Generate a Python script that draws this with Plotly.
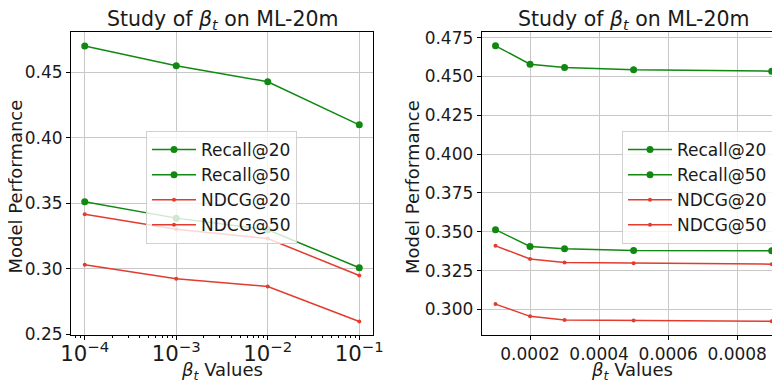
import plotly.graph_objects as go

# ---- data ----
beta_log = [1e-4, 1e-3, 1e-2, 1e-1]
recall20_log = [0.4698, 0.4548, 0.4426, 0.4097]
recall50_log = [0.3510, 0.3386, 0.3297, 0.3008]
ndcg20_log = [0.3030, 0.2924, 0.2865, 0.2598]
ndcg50_log = [0.3416, 0.3302, 0.3230, 0.2949]

beta_lin = [0.0001, 0.0002, 0.0003, 0.0005, 0.0009]
recall20_lin = [0.4697, 0.4579, 0.4558, 0.4543, 0.4534]
recall50_lin = [0.3513, 0.3405, 0.3390, 0.3379, 0.3377]
ndcg20_lin = [0.3034, 0.2955, 0.2931, 0.2929, 0.2923]
ndcg50_lin = [0.3409, 0.3325, 0.3302, 0.3297, 0.3291]

series_names = ["Recall@20", "Recall@50", "NDCG@20", "NDCG@50"]
x_tickvals_lin = [0.0002, 0.0004, 0.0006, 0.0008]

GREEN = "#118811"
RED = "#e33b2e"
FONT = "DejaVu Sans"
TXT = "#1a1a1a"
TICK_SIZE = 17
LEG_SIZE = 17
LABEL_SIZE = 18
TITLE_SIZE = 20.5

W, H = 780, 383
OFF = 8  # page body margin


def px(X):
    return (X - OFF) / W


def py(Y):
    return 1 - (Y - OFF) / H


fig = go.Figure()


def add_series(x, ys, xa, ya, leg):
    styles = [(GREEN, 7), (GREEN, 7), (RED, 4), (RED, 4)]
    for name, y, (c, ms) in zip(series_names, ys, styles):
        fig.add_trace(go.Scatter(
            x=x, y=y, name=name, mode="lines+markers",
            line=dict(color=c, width=1.5),
            marker=dict(color=c, size=ms),
            xaxis=xa, yaxis=ya, legend=leg,
        ))


add_series(beta_log, [recall20_log, recall50_log, ndcg20_log, ndcg50_log], "x", "y", "legend")
add_series(beta_lin, [recall20_lin, recall50_lin, ndcg20_lin, ndcg50_lin], "x2", "y2", "legend2")

ydom = [py(335), py(32)]
grid = "#c8c8c8"
common_axis = dict(
    showgrid=True, gridcolor=grid, gridwidth=1,
    showline=True, linecolor="black", linewidth=1,
    ticks="outside", ticklen=4, tickcolor="black", tickwidth=1,
    tickfont=dict(family=FONT, size=TICK_SIZE, color=TXT),
    zeroline=False, automargin=False, tickangle=0,
)

leg_common = dict(
    bgcolor="rgba(255,255,255,0.8)", bordercolor="#d0d0d0", borderwidth=1,
    font=dict(family=FONT, size=LEG_SIZE, color=TXT),
    xanchor="left", yanchor="top", tracegroupgap=0, itemwidth=44,
)

fig.update_layout(
    width=W, height=H,
    margin=dict(l=0, r=0, t=0, b=0),
    paper_bgcolor="white", plot_bgcolor="white",
    font=dict(family=FONT, color=TXT),
    xaxis=dict(
        common_axis, type="log", domain=[px(71), px(373)],
        range=[-4.15, -0.85], dtick=1, exponentformat="power",
        mirror=True, anchor="y", ticklabelstandoff=-4,
        minor=dict(ticks="outside", ticklen=2, tickcolor="black", showgrid=False),
    ),
    yaxis=dict(
        common_axis, domain=ydom, range=[0.2495, 0.4805], dtick=0.05,
        tickformat=".2f", mirror=True, anchor="x",
    ),
    xaxis2=dict(
        common_axis, domain=[px(481.7), px(780)], range=[0.00006, 0.000924],
        tickvals=x_tickvals_lin, tickformat=".4f", mirror=True, anchor="y2",
    ),
    yaxis2=dict(
        common_axis, domain=ydom, range=[0.2835, 0.4786], dtick=0.025,
        tickformat=".3f", mirror=False, anchor="x2",
    ),
    legend=dict(leg_common, x=px(146), y=py(131)),
    legend2=dict(leg_common, x=px(622), y=py(131)),
    showlegend=True,
)

title = "Study of <i>β</i><sub><i>t</i></sub> on ML-20m"
xlab = "<i>β</i><sub><i>t</i></sub> Values"
ann = [
    dict(text=title, x=px(222), y=py(20), size=TITLE_SIZE, angle=0),
    dict(text=title, x=px(633), y=py(20), size=TITLE_SIZE, angle=0),
    dict(text=xlab, x=px(222), y=py(371), size=LABEL_SIZE, angle=0),
    dict(text=xlab, x=px(632), y=py(371), size=LABEL_SIZE, angle=0),
    dict(text="Model Performance", x=px(14.5), y=py(187), size=LABEL_SIZE, angle=-90),
    dict(text="Model Performance", x=px(412), y=py(187), size=LABEL_SIZE, angle=-90),
]
for a in ann:
    fig.add_annotation(
        text=a["text"], x=a["x"], y=a["y"], xref="paper", yref="paper",
        xanchor="center", yanchor="middle", showarrow=False, textangle=a["angle"],
        font=dict(family=FONT, size=a["size"], color=TXT),
    )

fig.write_html("out.html")
